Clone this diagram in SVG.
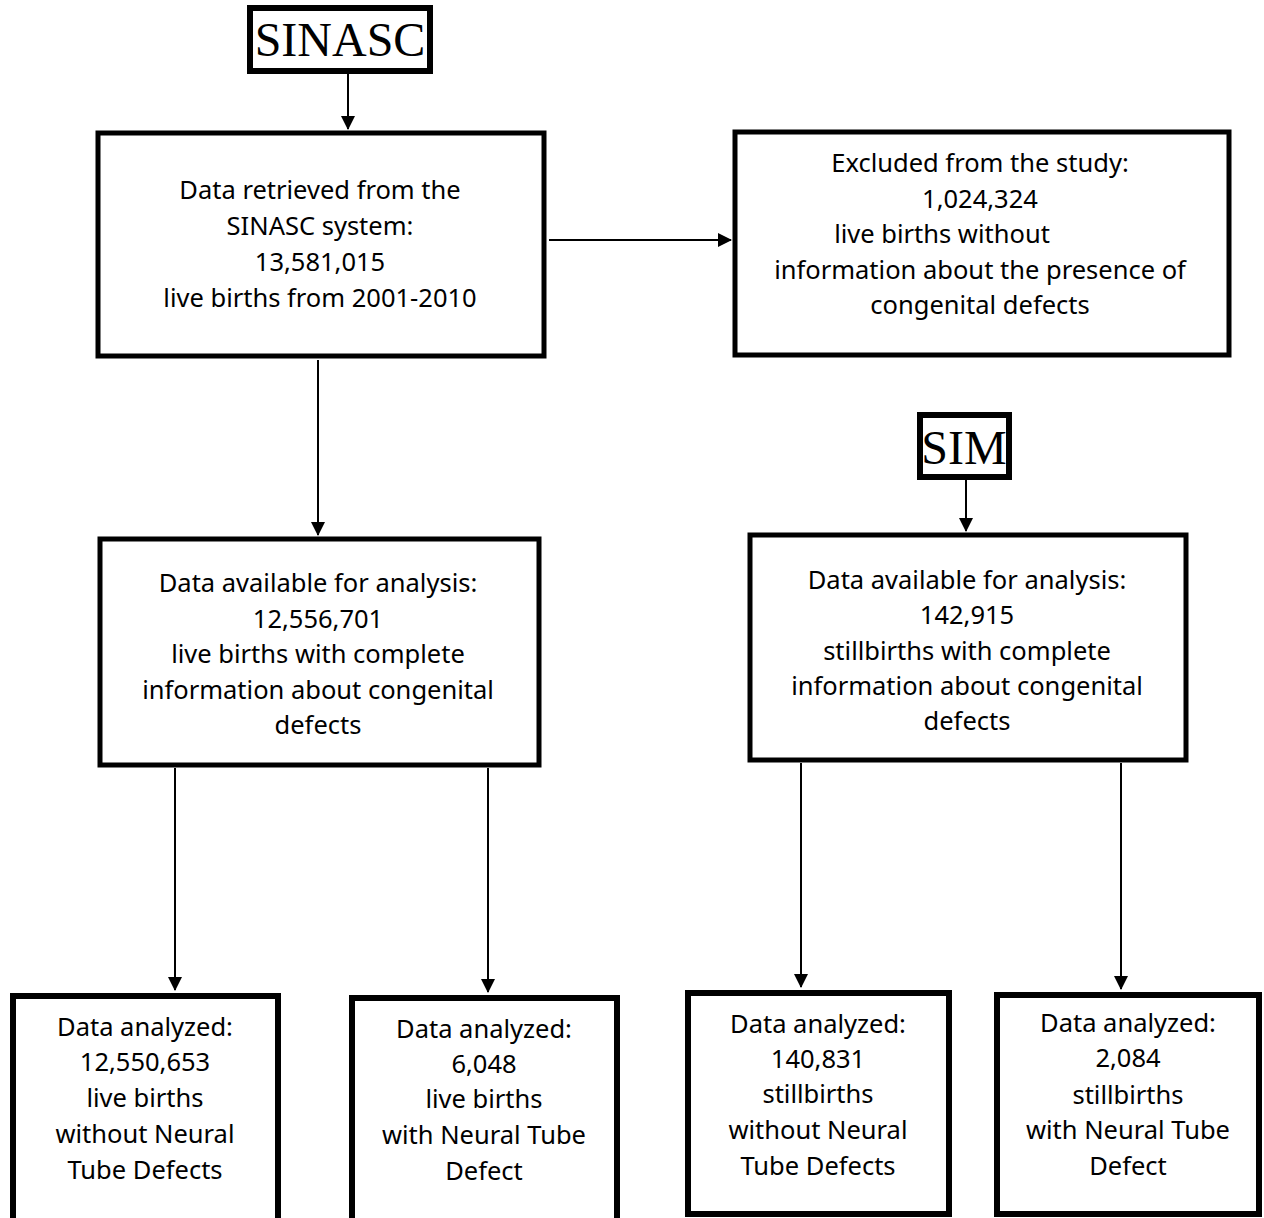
<svg xmlns="http://www.w3.org/2000/svg" width="1264" height="1218" viewBox="0 0 1264 1218">
<style>
.box{fill:#fff;stroke:#000;stroke-width:5}
.bbox{fill:#fff;stroke:#000;stroke-width:6}
.t{font-family:"Noto Sans","Open Sans",sans-serif;font-size:25.5px;fill:#000;text-anchor:middle}
.serif{font-family:"Liberation Serif","Times New Roman",serif;font-size:48px;fill:#000;text-anchor:middle}
.c{stroke:#000;stroke-width:2;fill:none;marker-end:url(#ah)}
</style>
<defs>
<marker id="ah" markerUnits="userSpaceOnUse" markerWidth="14" markerHeight="18" refX="13" refY="7" orient="auto">
<path d="M0,0 L14,7 L0,14 Z" fill="#000"/>
</marker>
</defs>
<rect width="1264" height="1218" fill="#fff"/>
<g id="connectors">
<line class="c" x1="348" y1="74" x2="348" y2="129"/>
<line class="c" x1="549" y1="240" x2="731" y2="240"/>
<line class="c" x1="318" y1="360" x2="318" y2="535"/>
<line class="c" x1="966" y1="480" x2="966" y2="531"/>
<line class="c" x1="175" y1="768" x2="175" y2="990"/>
<line class="c" x1="488" y1="768" x2="488" y2="992"/>
<line class="c" x1="801" y1="763" x2="801" y2="987"/>
<line class="c" x1="1121" y1="763" x2="1121" y2="989"/>
</g>
<g id="sinasc">
<rect x="250" y="8" width="180" height="63" fill="#fff" stroke="#000" stroke-width="6"/>
<text class="serif" x="340" y="56">SINASC</text>
</g>
<g id="retrieved">
<rect class="box" x="98" y="133" width="446" height="223"/>
<text class="t" x="320" y="199">Data retrieved from the</text>
<text class="t" x="320" y="235">SINASC system:</text>
<text class="t" x="320" y="271">13,581,015</text>
<text class="t" x="320" y="307">live births from 2001-2010</text>
</g>
<g id="excluded">
<rect class="box" x="735" y="132" width="494" height="223"/>
<text class="t" x="980" y="172">Excluded from the study:</text>
<text class="t" x="980" y="208">1,024,324</text>
<text class="t" x="942" y="243">live births without</text>
<text class="t" x="980" y="279">information about the presence of</text>
<text class="t" x="980" y="314">congenital defects</text>
</g>
<g id="available-live">
<rect class="box" x="100" y="539" width="439" height="226"/>
<text class="t" x="318" y="592">Data available for analysis:</text>
<text class="t" x="318" y="628">12,556,701</text>
<text class="t" x="318" y="663">live births with complete</text>
<text class="t" x="318" y="699">information about congenital</text>
<text class="t" x="318" y="734">defects</text>
</g>
<g id="sim">
<rect x="920" y="415" width="89" height="62" fill="#fff" stroke="#000" stroke-width="6"/>
<text class="serif" x="964" y="464">SIM</text>
</g>
<g id="available-still">
<rect class="box" x="750" y="535" width="436" height="225"/>
<text class="t" x="967" y="589">Data available for analysis:</text>
<text class="t" x="967" y="624">142,915</text>
<text class="t" x="967" y="660">stillbirths with complete</text>
<text class="t" x="967" y="695">information about congenital</text>
<text class="t" x="967" y="730">defects</text>
</g>
<g id="analyzed-live-without">
<rect class="bbox" x="13" y="996" width="265" height="240"/>
<text class="t" x="145" y="1036">Data analyzed:</text>
<text class="t" x="145" y="1071">12,550,653</text>
<text class="t" x="145" y="1107">live births</text>
<text class="t" x="145" y="1143">without Neural</text>
<text class="t" x="145" y="1179">Tube Defects</text>
</g>
<g id="analyzed-live-with">
<rect class="bbox" x="352" y="998" width="265" height="240"/>
<text class="t" x="484" y="1038">Data analyzed:</text>
<text class="t" x="484" y="1073">6,048</text>
<text class="t" x="484" y="1108">live births</text>
<text class="t" x="484" y="1144">with Neural Tube</text>
<text class="t" x="484" y="1180">Defect</text>
</g>
<g id="analyzed-still-without">
<rect class="bbox" x="688" y="993" width="261" height="221"/>
<text class="t" x="818" y="1033">Data analyzed:</text>
<text class="t" x="818" y="1068">140,831</text>
<text class="t" x="818" y="1103">stillbirths</text>
<text class="t" x="818" y="1139">without Neural</text>
<text class="t" x="818" y="1175">Tube Defects</text>
</g>
<g id="analyzed-still-with">
<rect class="bbox" x="997" y="995" width="262" height="219"/>
<text class="t" x="1128" y="1032">Data analyzed:</text>
<text class="t" x="1128" y="1067">2,084</text>
<text class="t" x="1128" y="1104">stillbirths</text>
<text class="t" x="1128" y="1139">with Neural Tube</text>
<text class="t" x="1128" y="1175">Defect</text>
</g>
</svg>
